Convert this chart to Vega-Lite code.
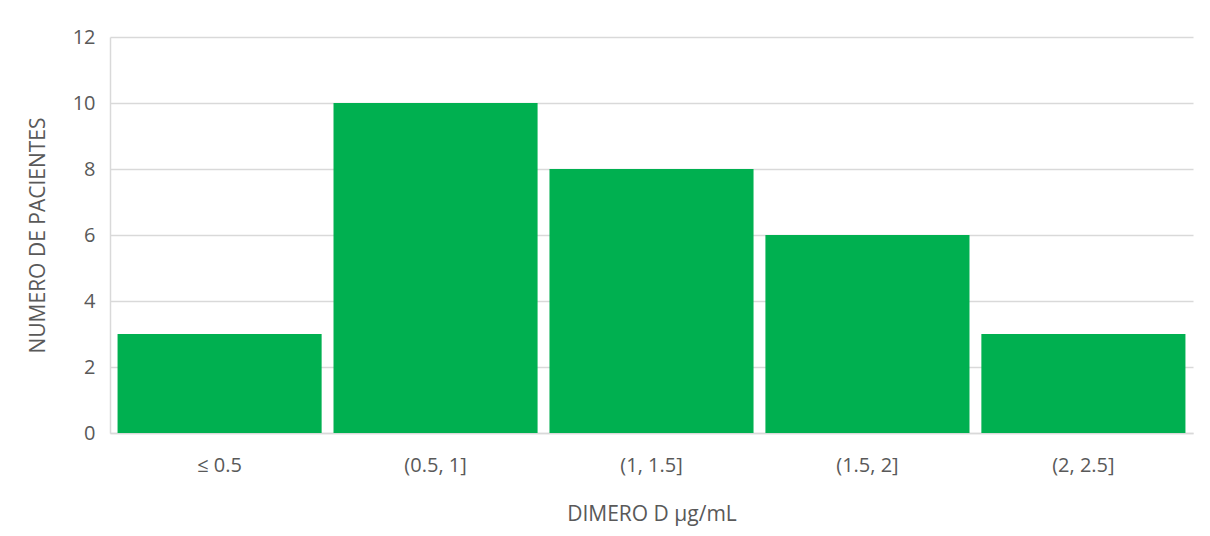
{
  "$schema": "https://vega.github.io/schema/vega-lite/v6.json",
  "width": 1083,
  "height": 396,
  "autosize": {"type": "none"},
  "padding": {"left": 110, "top": 37, "right": 17, "bottom": 103},
  "background": "#ffffff",
  "config": {
    "view": {"stroke": null},
    "font": "Open Sans"
  },
  "data": {
    "values": [
      {"rango": "≤ 0.5", "pacientes": 3},
      {"rango": "(0.5, 1]", "pacientes": 10},
      {"rango": "(1, 1.5]", "pacientes": 8},
      {"rango": "(1.5, 2]", "pacientes": 6},
      {"rango": "(2, 2.5]", "pacientes": 3}
    ]
  },
  "mark": {"type": "bar", "color": "#00B050"},
  "encoding": {
    "x": {
      "field": "rango",
      "type": "nominal",
      "sort": null,
      "scale": {"paddingInner": 0.055, "paddingOuter": 0.035},
      "axis": {
        "title": "DIMERO D µg/mL",
        "titleFont": "Open Sans",
        "titleFontSize": 21,
        "titleFontWeight": "normal",
        "titleColor": "#595959",
        "titlePadding": 28,
        "labelAngle": 0,
        "labelFontSize": 20,
        "labelColor": "#595959",
        "labelPadding": 22,
        "ticks": false,
        "domainColor": "#d9d9d9",
        "domainWidth": 1.5
      }
    },
    "y": {
      "field": "pacientes",
      "type": "quantitative",
      "scale": {"domain": [0, 12]},
      "axis": {
        "title": "NUMERO DE PACIENTES",
        "titleFont": "Open Sans",
        "titleFontSize": 21,
        "titleFontWeight": "normal",
        "titleColor": "#595959",
        "titlePadding": 24,
        "values": [0, 2, 4, 6, 8, 10, 12],
        "labelFontSize": 20,
        "labelColor": "#595959",
        "labelPadding": 15,
        "ticks": false,
        "grid": true,
        "gridColor": "#d9d9d9",
        "gridWidth": 1.5,
        "domainColor": "#d9d9d9",
        "domainWidth": 1.5
      }
    }
  }
}
